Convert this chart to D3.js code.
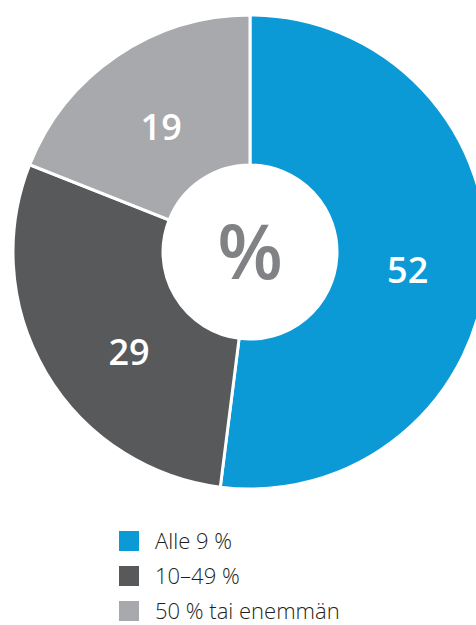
<!DOCTYPE html>
<html>
<head>
<meta charset="utf-8">
<script src="https://cdn.jsdelivr.net/npm/d3@7"></script>
<style>
  body { margin: 0; background: #fff; }
  svg { display: block; }
</style>
</head>
<body>
<svg id="chart" width="476" height="625"></svg>
<script>
var categories = ['Alle 9 %', '10–49 %', '50 % tai enemmän'];
var values = [52, 29, 19];
var colors = ['#0b9ad6', '#58595b', '#a7a9ac'];

var cx = 250, cy = 252;
var outerR = 237, innerR = 87, labelR = 158;
// small hand nudges so the numbers sit where the original put them
var labelNudge = [[0, 8], [15, 20], [0, 6]];

var svg = d3.select('#chart');
var g = svg.append('g').attr('transform', 'translate(' + cx + ',' + cy + ')');

var pie = d3.pie().sort(null).value(function(d) { return d; });
var arcs = pie(values);
var arc = d3.arc().innerRadius(innerR).outerRadius(outerR);
var labelArc = d3.arc().innerRadius(labelR).outerRadius(labelR);

g.selectAll('path.slice')
  .data(arcs)
  .enter().append('path')
  .attr('class', 'slice')
  .attr('d', arc)
  .attr('fill', function(d, i) { return colors[i]; })
  .attr('stroke', '#fff')
  .attr('stroke-width', 3);

g.selectAll('text.val')
  .data(arcs)
  .enter().append('text')
  .attr('class', 'val')
  .attr('transform', function(d, i) {
    var c = labelArc.centroid(d);
    return 'translate(' + (c[0] + labelNudge[i][0]) + ',' + (c[1] + labelNudge[i][1]) + ')';
  })
  .attr('text-anchor', 'middle')
  .attr('dy', '0.36em')
  .attr('fill', '#fff')
  .attr('font-family', 'Open Sans, sans-serif')
  .attr('font-weight', 600)
  .attr('font-size', 36)
  .text(function(d) { return d.data; });

g.append('text')
  .attr('text-anchor', 'middle')
  .attr('dy', '0.36em')
  .attr('fill', '#808285')
  .attr('font-family', 'Open Sans, sans-serif')
  .attr('font-weight', 600)
  .attr('font-size', 76)
  .text('%');

// legend
var legend = svg.append('g').attr('transform', 'translate(119,531)');
var rows = legend.selectAll('g')
  .data(categories)
  .enter().append('g')
  .attr('transform', function(d, i) { return 'translate(0,' + (i * 35) + ')'; });
rows.append('rect')
  .attr('width', 20).attr('height', 20)
  .attr('fill', function(d, i) { return colors[i]; });
rows.append('text')
  .attr('x', 36).attr('y', 18)
  .attr('fill', '#231f20')
  .attr('font-family', 'Open Sans, sans-serif')
  .attr('font-weight', 300)
  .attr('font-size', 22)
  .text(function(d) { return d; });
</script>
</body>
</html>
